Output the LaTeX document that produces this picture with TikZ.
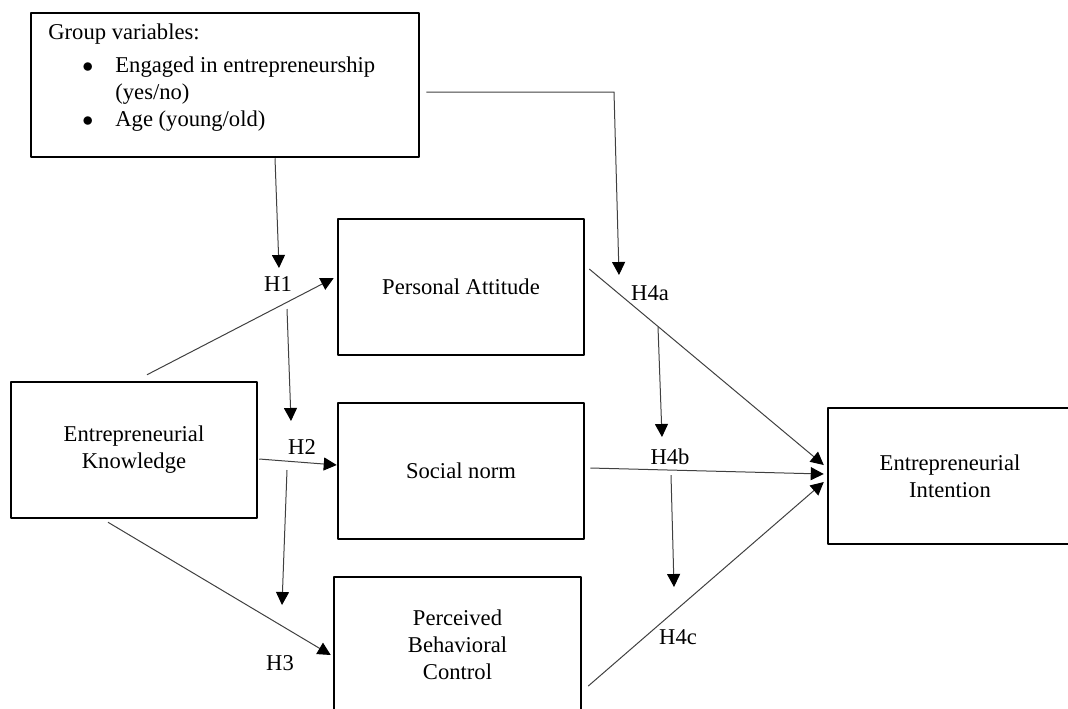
\documentclass[tikz,border=0pt]{standalone}
\usepackage{fontspec}
\setmainfont{Liberation Serif}
\usetikzlibrary{calc,arrows.meta}
\begin{document}
\begin{tikzpicture}[x=0.5pt,y=-0.5pt,font=\fontsize{11.3}{13.5}\selectfont,line join=round,>={Triangle[length=6.5pt,width=6.5pt,color=black]},
box/.style={draw,line width=1.25pt,minimum width=123pt,minimum height=68pt,align=center,inner sep=0pt},
arr/.style={->,line width=0.5pt,draw=black!75},
hyp/.style={inner sep=0pt}]
\useasboundingbox (0,0) rectangle (1068,708);
\clip (0,0) rectangle (1068,708);
\node[box,minimum width=194pt,minimum height=72pt] (grp) at (225,85) {};
\node[anchor=north west,inner sep=0pt,align=left] (grplist) at (48,23) {Group variables:\\[3pt]
\hspace*{17pt}\makebox[16.5pt][l]{$\bullet$}Engaged in entrepreneurship\\
\hspace*{33.5pt}(yes/no)\\
\hspace*{17pt}\makebox[16.5pt][l]{$\bullet$}Age (young/old)};
\node[box] (pa) at (461,287) {Personal Attitude};
\node[box] (sn) at (461,471) {Social norm};
\node[box,minimum width=123.5pt] (pbc) at (457.5,645) {Perceived\\Behavioral\\Control};
\node[box] (ek) at (134,450) {Entrepreneurial\\Knowledge};
\node[box,minimum width=122pt] (ei) at (950,476) {Entrepreneurial\\Intention};
\node[hyp] (h1) at (278,284) {H1};
\node[hyp] (h2) at (302,447) {H2};
\node[hyp] (h3) at (280,663) {H3};
\node[hyp] (h4a) at (650,293) {H4a};
\node[hyp] (h4b) at (670,457) {H4b};
\node[hyp] (h4c) at (678,637) {H4c};
\coordinate (m1) at (279,268);
\coordinate (m2a) at (287,309);
\coordinate (m2b) at (291,421);
\coordinate (m3a) at (287,470);
\coordinate (m3b) at (282,605);
\coordinate (m4) at (614,92);
\coordinate (m4a) at (619,275);
\coordinate (m5a) at (658,327);
\coordinate (m5b) at (662,437);
\coordinate (m6a) at (671,475);
\coordinate (m6b) at (674,587);
\draw[arr] ($(grp.south)+(50,0)$)--(m1);
\draw[arr] (m2a)--(m2b);
\draw[arr] (m3a)--(m3b);
\draw[arr] ($(grp.east)+(6,7)$)--(m4)--(m4a);
\draw[arr] (m5a)--(m5b);
\draw[arr] (m6a)--(m6b);
\draw[arr] ($(ek.north)+(13,-6)$)--($(pa.west)+(-3,-9)$);
\draw[arr] ($(ek.east)+(1,9)$)--($(sn.west)+(0,-6)$);
\draw[arr] ($(ek.south)+(-26,3)$)--($(pbc.west)+(-2,10)$);
\draw[arr] ($(pa.east)+(4,-18)$)--($(ei.west)+(-3,-11)$);
\draw[arr] ($(sn.east)+(5,-3)$)--($(ei.west)+(-3,-2)$);
\draw[arr] ($(pbc.east)+(6,41)$)--($(ei.west)+(-3,6)$);
\end{tikzpicture}
\end{document}
